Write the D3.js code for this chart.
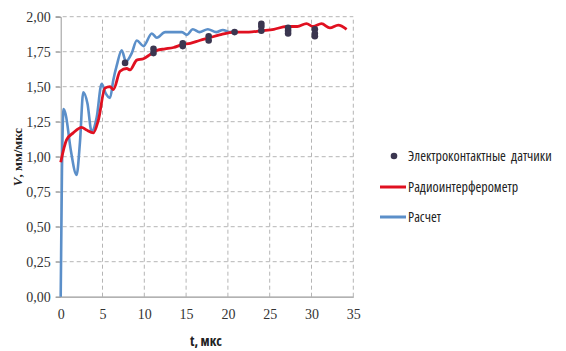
<!DOCTYPE html>
<html lang="ru">
<head>
<meta charset="UTF-8" />
<title>V(t)</title>
<script src="https://cdn.jsdelivr.net/npm/d3@7"></script>
<style>
    html, body { margin: 0; background: #fff; }
</style>
</head>
<body>
<div id="container"></div>
<script>
    // Радиоинтерферометр
    const tRadio = [0, 0.7, 1.5, 2.5, 3.1, 3.9, 4.5, 5.3, 5.9, 6.3, 7.1, 7.9, 8.3, 9.1, 9.9, 10.7, 11.5, 12.5, 13.5, 14.5, 15.5, 16.6, 17.8, 19, 20.8, 22.5, 24.0, 25.5, 27.0, 28.3, 29.4, 30.2, 31.2, 32.2, 33.2, 34.2];
    const vRadio = [0.96, 1.12, 1.17, 1.21, 1.19, 1.17, 1.26, 1.49, 1.50, 1.48, 1.61, 1.63, 1.62, 1.69, 1.70, 1.73, 1.76, 1.77, 1.78, 1.80, 1.81, 1.83, 1.85, 1.87, 1.89, 1.89, 1.90, 1.91, 1.93, 1.93, 1.95, 1.93, 1.95, 1.92, 1.94, 1.91];

    // Расчет
    const tCalc = [0, 0.15, 0.35, 0.6, 1.2, 1.9, 2.3, 2.7, 3.2, 3.7, 4.3, 4.9, 5.4, 5.9, 6.3, 6.7, 7.3, 7.8, 8.5, 9.1, 9.9, 10.9, 11.5, 12.5, 13.5, 14.5, 15.1, 15.8, 16.6, 17.6, 18.6, 19.4, 20.2, 20.8];
    const vCalc = [0, 0.9, 1.34, 1.30, 1.05, 0.87, 1.1, 1.46, 1.38, 1.18, 1.28, 1.52, 1.45, 1.42, 1.55, 1.65, 1.76, 1.68, 1.74, 1.83, 1.79, 1.88, 1.85, 1.89, 1.89, 1.89, 1.87, 1.91, 1.89, 1.91, 1.89, 1.905, 1.89, 1.90];

    // Электроконтактные датчики
    const tDots = [7.7, 11.1, 11.1, 14.6, 14.6, 17.7, 17.7, 20.8, 24.0, 24.0, 24.0, 27.2, 27.2, 27.2, 30.4, 30.4, 30.4];
    const vDots = [1.67, 1.74, 1.77, 1.79, 1.81, 1.83, 1.86, 1.89, 1.95, 1.93, 1.90, 1.92, 1.90, 1.88, 1.91, 1.88, 1.86];

    const xTicks = [0, 5, 10, 15, 20, 25, 30, 35];
    const yTicks = [0, 0.25, 0.5, 0.75, 1, 1.25, 1.5, 1.75, 2];
    const legendLabels = ["Электроконтактные  датчики", "Радиоинтерферометр", "Расчет"];
    const legendWidths = [158, 120, 36];

    const width = 566, height = 351;
    const margin = { left: 60.7, top: 16.7, right: 566 - 353.3, bottom: 351 - 296.7 };
    const serif = "'Liberation Serif', 'DejaVu Serif', serif";
    const narrow = "'Open Sans', 'DejaVu Sans Condensed', sans-serif";

    const svg = d3.select("#container").append("svg")
        .attr("width", width)
        .attr("height", height);

    const x = d3.scaleLinear().domain([0, 35]).range([margin.left, width - margin.right]);
    const y = d3.scaleLinear().domain([0, 2]).range([height - margin.bottom, margin.top]);

    const fmt = d => d3.format(".2f")(d).replace(".", ",");

    // grid
    const grid = svg.append("g");
    grid.selectAll("line.h")
        .data(yTicks.slice(1))
        .join("line")
        .attr("x1", x(0) - 5).attr("x2", x(35))
        .attr("y1", d => y(d)).attr("y2", d => y(d))
        .attr("stroke", "#b5b5b5")
        .attr("stroke-dasharray", "4,3");
    grid.selectAll("line.v")
        .data(xTicks.slice(1))
        .join("line")
        .attr("x1", d => x(d)).attr("x2", d => x(d))
        .attr("y1", y(0)).attr("y2", y(2))
        .attr("stroke", "#b5b5b5")
        .attr("stroke-dasharray", "4,3");

    // axes
    const yAxis = svg.append("g")
        .attr("transform", `translate(${x(0)},0)`)
        .call(d3.axisLeft(y).tickValues(yTicks).tickFormat(fmt).tickSize(5).tickPadding(5));
    yAxis.select(".domain").attr("stroke", "#999");
    yAxis.selectAll(".tick line").attr("stroke", "#999");

    const xAxis = svg.append("g")
        .attr("transform", `translate(0,${y(0)})`)
        .call(d3.axisBottom(x).tickValues(xTicks).tickFormat(d3.format("d")).tickSize(0).tickPadding(12));
    xAxis.select(".domain").attr("stroke", "#999").attr("stroke-width", 1.3);

    svg.selectAll(".tick text")
        .style("font-family", serif)
        .style("font-size", "14px")
        .attr("fill", "#333");

    // series
    const radio = tRadio.map((t, i) => [t, vRadio[i]]);
    const calc = tCalc.map((t, i) => [t, vCalc[i]]);
    const dots = tDots.map((t, i) => [t, vDots[i]]);

    const line = d3.line()
        .x(d => x(d[0]))
        .y(d => y(d[1]))
        .curve(d3.curveMonotoneX);

    svg.append("path")
        .datum(calc)
        .attr("d", line)
        .attr("fill", "none")
        .attr("stroke", "#5b8fc9")
        .attr("stroke-width", 2.6);

    svg.append("path")
        .datum(radio)
        .attr("d", line)
        .attr("fill", "none")
        .attr("stroke", "#e01020")
        .attr("stroke-width", 2.8);

    svg.append("g").selectAll("circle")
        .data(dots)
        .join("circle")
        .attr("cx", d => x(d[0]))
        .attr("cy", d => y(d[1]))
        .attr("r", 3.3)
        .attr("fill", "#3b3650");

    // axis titles
    svg.append("text")
        .attr("x", 206)
        .attr("y", 346)
        .attr("text-anchor", "middle")
        .style("font-family", narrow)
        .style("font-stretch", "condensed")
        .style("font-weight", "bold")
        .style("font-size", "14px")
        .attr("fill", "#222")
        .text("t, мкс");

    const yt = svg.append("text")
        .attr("transform", "translate(22,157) rotate(-90)")
        .attr("text-anchor", "middle")
        .style("font-family", serif)
        .style("font-weight", "bold")
        .style("font-size", "13px")
        .attr("fill", "#222");
    yt.append("tspan").style("font-style", "italic").text("V");
    yt.append("tspan").text(", мм/мкс");

    // legend
    const legend = svg.append("g");
    const ly = [156, 187, 217];
    legend.append("circle").attr("cx", 394).attr("cy", ly[0]).attr("r", 3.3).attr("fill", "#3b3650");
    legend.append("line").attr("x1", 380).attr("x2", 406).attr("y1", ly[1]).attr("y2", ly[1])
        .attr("stroke", "#e01020").attr("stroke-width", 3);
    legend.append("line").attr("x1", 380).attr("x2", 406).attr("y1", ly[2]).attr("y2", ly[2])
        .attr("stroke", "#5b8fc9").attr("stroke-width", 3);
    legend.selectAll("text")
        .data(legendLabels)
        .join("text")
        .attr("x", 408)
        .attr("y", (d, i) => ly[i])
        .attr("dy", "0.35em")
        .style("font-family", narrow)
        .style("font-stretch", "condensed")
        .style("font-size", "14px")
        .style("white-space", "pre")
        .attr("fill", "#222")
        .text(d => d)
        .each(function (d, i) {
            // shrink the font until the label is as wide as in the picture
            const w = this.getComputedTextLength();
            if (w > legendWidths[i]) {
                d3.select(this).style("font-size", (14 * legendWidths[i] / w) + "px");
            }
        });
</script>
</body>
</html>
